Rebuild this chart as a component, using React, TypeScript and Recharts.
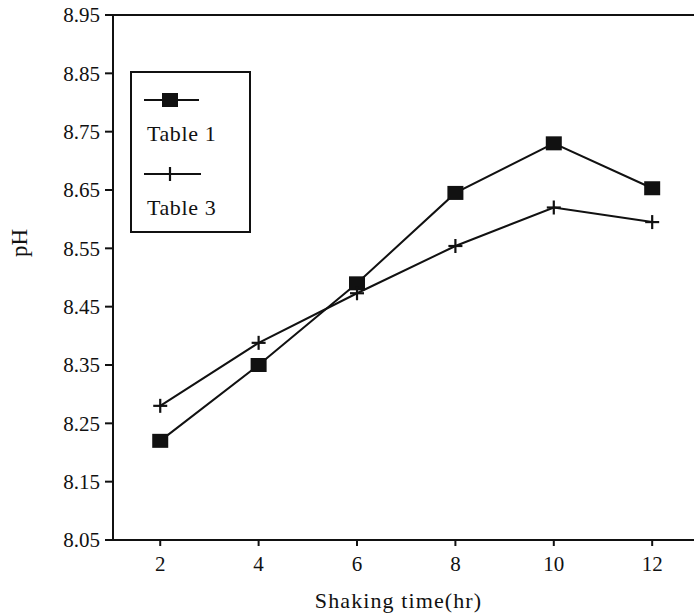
import React from 'react';
import { LineChart, Line, XAxis, YAxis, ReferenceLine, Label } from 'recharts';

const HOURS = [2, 4, 6, 8, 10, 12];
const TABLE1 = [8.22, 8.35, 8.49, 8.645, 8.73, 8.653];
const TABLE3 = [8.28, 8.388, 8.473, 8.554, 8.62, 8.595];
const Y_TICKS = [8.05, 8.15, 8.25, 8.35, 8.45, 8.55, 8.65, 8.75, 8.85, 8.95];
const X_TICKS = [2, 4, 6, 8, 10, 12];

const INK = '#111';
const FONT = '"Liberation Serif", "DejaVu Serif", serif';

const data = HOURS.map((h, i) => ({ h, t1: TABLE1[i], t3: TABLE3[i] }));

const SquareDot = (props: any) => {
  const { cx, cy } = props;
  if (cx == null || cy == null) return null;
  return <rect x={cx - 8} y={cy - 7} width={16} height={14} fill={INK} />;
};

const PlusDot = (props: any) => {
  const { cx, cy } = props;
  if (cx == null || cy == null) return null;
  return (
    <g stroke={INK} strokeWidth={2.2}>
      <line x1={cx - 7} x2={cx + 7} y1={cy} y2={cy} />
      <line x1={cx} x2={cx} y1={cy - 7} y2={cy + 7} />
    </g>
  );
};

const PhLabel = () => (
  <text
    x={0}
    y={0}
    transform="translate(27, 243) rotate(-90)"
    textAnchor="middle"
    fontFamily={FONT}
    fontSize={23}
    fill={INK}
  >
    pH
  </text>
);

function LegendBox() {
  return (
    <div
      style={{
        position: 'absolute',
        left: 130,
        top: 71,
        width: 117,
        height: 158,
        border: `2px solid ${INK}`,
        background: '#fff',
        fontFamily: FONT,
        fontSize: 22,
        letterSpacing: 0.6,
        color: INK,
      }}
    >
      <svg width={70} height={20} style={{ position: 'absolute', left: 12, top: 17 }}>
        <line x1={0} x2={55} y1={10} y2={10} stroke={INK} strokeWidth={2} />
        <rect x={18} y={3} width={16} height={14} fill={INK} />
      </svg>
      <div style={{ position: 'absolute', left: 15, top: 49, lineHeight: '24px' }}>Table 1</div>
      <svg width={70} height={20} style={{ position: 'absolute', left: 12, top: 91 }}>
        <line x1={0} x2={57} y1={10} y2={10} stroke={INK} strokeWidth={2} />
        <line x1={26} x2={26} y1={3} y2={17} stroke={INK} strokeWidth={2.2} />
      </svg>
      <div style={{ position: 'absolute', left: 15, top: 123, lineHeight: '24px' }}>Table 3</div>
    </div>
  );
}

export default function App() {
  return (
    <div style={{ position: 'absolute', left: 0, top: 0, width: 694, height: 615, background: '#fff' }}>
      <LineChart
        width={694}
        height={615}
        data={data}
        margin={{ top: 15, right: 0, bottom: 0, left: 0 }}
      >
        <XAxis
          dataKey="h"
          type="number"
          domain={[1.04, 12.85]}
          ticks={X_TICKS}
          allowDataOverflow
          height={75}
          stroke={INK}
          strokeWidth={2}
          tickSize={6}
          tickMargin={10}
          tick={{ fill: INK, fontFamily: FONT, fontSize: 21 }}
        >
          <Label
            value="Shaking time(hr)"
            position="insideBottom"
            offset={7}
            dx={-5}
            style={{ fill: INK, fontFamily: FONT, fontSize: 22, letterSpacing: 1.1 }}
          />
        </XAxis>
        <YAxis
          type="number"
          domain={[8.05, 8.95]}
          ticks={Y_TICKS}
          allowDataOverflow
          width={113}
          stroke={INK}
          strokeWidth={2}
          tickSize={8}
          tickMargin={5}
          tickFormatter={(v: number) => v.toFixed(2)}
          tick={{ fill: INK, fontFamily: FONT, fontSize: 21 }}
        >
          <Label content={<PhLabel />} />
        </YAxis>
        <ReferenceLine y={8.95} stroke={INK} strokeWidth={2} />
        <Line
          dataKey="t1"
          stroke={INK}
          strokeWidth={2}
          dot={<SquareDot />}
          activeDot={false}
          isAnimationActive={false}
        />
        <Line
          dataKey="t3"
          stroke={INK}
          strokeWidth={2}
          dot={<PlusDot />}
          activeDot={false}
          isAnimationActive={false}
        />
      </LineChart>
      <LegendBox />
    </div>
  );
}
